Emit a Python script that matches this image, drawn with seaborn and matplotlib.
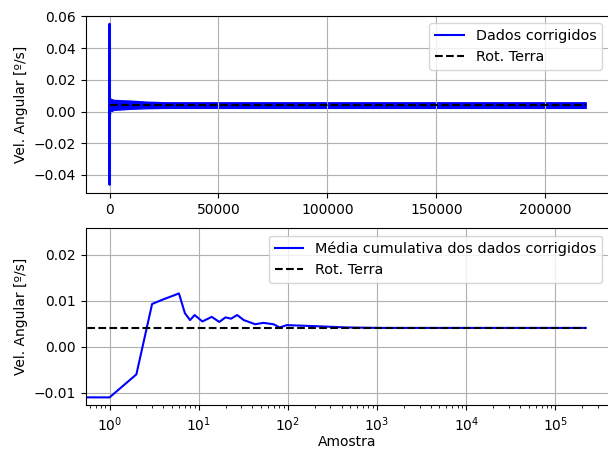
import matplotlib
matplotlib.use('Agg')
import matplotlib.pyplot as plt
import seaborn as sns

# Dados corrigidos: primeiras amostras (pico inicial)
spike_x = [0, 1, 2, 3, 4, 5, 6, 7]
spike_y = [0.024, -0.0462, 0.004, 0.0553, 0.0143, 0.0145, 0.0159, -0.0237]

# Envelope do ruído (faixa azul) ao longo das amostras
band_x = [0, 500, 2000, 5000, 9000, 17000, 25000, 218600]
band_hi = [0.0089, 0.0080, 0.0073, 0.0071, 0.0069, 0.0062, 0.0058, 0.0058]
band_lo = [-0.0025, 0.0000, 0.0011, 0.0013, 0.0017, 0.0021, 0.0023, 0.0023]

# Média cumulativa dos dados corrigidos
cum_x = [0, 1, 2, 3, 4, 5, 6, 7, 8, 9, 11, 14, 17, 20, 23, 27, 32, 43, 53,
         69, 81, 97, 192, 457, 1070, 10000, 218600]
cum_y = [0.024, -0.011, -0.006, 0.0093, 0.0103, 0.0110, 0.0116, 0.0073, 0.0058,
         0.0069, 0.0055, 0.0065, 0.0054, 0.0064, 0.0061, 0.0069, 0.0058, 0.0049,
         0.0052, 0.0049, 0.0042, 0.0047, 0.0045, 0.0042, 0.0041, 0.0041, 0.0041]

# Rotação da Terra (linha de referência, do início ao fim das amostras)
rot_x = [0, 218600]
rot_y = [0.0041, 0.0041]

fig, (ax1, ax2) = plt.subplots(2, 1, figsize=(6.08, 4.49), dpi=100)
fig.subplots_adjust(left=0.141, right=1.0025, top=0.965, bottom=0.097, hspace=0.2)

# Painel superior
sns.lineplot(x=spike_x, y=spike_y, ax=ax1, color='blue', lw=1.5, label='Dados corrigidos')
ax1.fill_between(band_x, band_lo, band_hi, color='blue', lw=1)
sns.lineplot(x=rot_x, y=rot_y, ax=ax1, color='k', ls='--', lw=1.5, label='Rot. Terra')
ax1.set_ylabel('Vel. Angular [º/s]')
ax1.set_xlabel('')
ax1.set_xticks([0, 50000, 100000, 150000, 200000])
ax1.grid(True)
ax1.legend(loc='upper right', fontsize=10.4)

# Painel inferior (escala log)
sns.lineplot(x=cum_x, y=cum_y, ax=ax2, color='blue', lw=1.5,
             label='Média cumulativa dos dados corrigidos')
sns.lineplot(x=rot_x, y=rot_y, ax=ax2, color='k', ls='--', lw=1.5, label='Rot. Terra')
ax2.set_xscale('log')
ax2.set_yticks([-0.01, 0.0, 0.01, 0.02])
ax2.set_ylabel('Vel. Angular [º/s]')
ax2.set_xlabel('Amostra', labelpad=1)
ax2.grid(True)
ax2.legend(loc='upper right', fontsize=10.4)

fig.savefig('out.png', dpi=100)
